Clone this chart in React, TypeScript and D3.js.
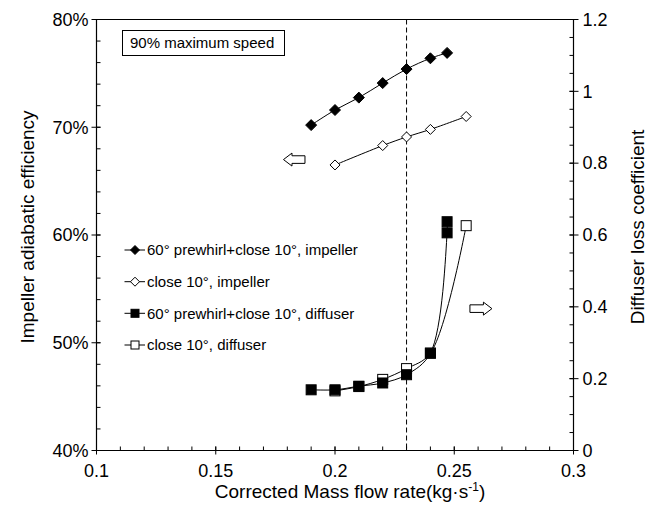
import React from 'react';
import * as d3 from 'd3';

// ---- data ----
const xImpPre = [0.19, 0.2, 0.21, 0.22, 0.23, 0.24, 0.247];
const effImpPre = [70.2, 71.6, 72.75, 74.1, 75.4, 76.4, 76.9];
const xImpClose = [0.2, 0.22, 0.23, 0.24, 0.255];
const effImpClose = [66.5, 68.3, 69.1, 69.8, 71.0];
const xDifPre = [0.19, 0.2, 0.21, 0.22, 0.23, 0.24, 0.247, 0.247];
const lossDifPre = [0.169, 0.169, 0.179, 0.188, 0.211, 0.271, 0.606, 0.637];
const xDifClose = [0.2, 0.21, 0.22, 0.23, 0.24, 0.255];
const lossDifClose = [0.166, 0.178, 0.198, 0.228, 0.271, 0.626];

const xTicks = [0.1, 0.15, 0.2, 0.25, 0.3];
const xTickLabels = ['0.1', '0.15', '0.2', '0.25', '0.3'];
const leftTicks = [40, 50, 60, 70, 80];
const leftTickLabels = ['40%', '50%', '60%', '70%', '80%'];
const rightTicks = [0, 0.2, 0.4, 0.6, 0.8, 1.0, 1.2];
const rightTickLabels = ['0', '0.2', '0.4', '0.6', '0.8', '1', '1.2'];
const legendLabels = [
  '60° prewhirl+close 10°, impeller',
  'close 10°, impeller',
  '60° prewhirl+close 10°, diffuser',
  'close 10°, diffuser',
];
const refX = 0.23;
const boxText = '90% maximum speed';
// arrow annotations (data units)
const leftArrow = { x: 0.1784, y: 67.0 };
const rightArrow = { x: 0.2658, y: 0.395 };

const W = 649, H = 506;
const L = 96.5, R = 573.5, T = 19.5, B = 450.5;
const FONT = '"Liberation Sans", Arial, sans-serif';

export default function App() {
  const x = d3.scaleLinear().domain([0.1, 0.3]).range([L, R]);
  const yL = d3.scaleLinear().domain([40, 80]).range([B, T]);
  const yR = d3.scaleLinear().domain([0, 1.2]).range([B, T]);
  const curve = d3.curveCatmullRom.alpha(0.5);

  const mkLine = (xs: number[], ys: number[], ys2: any) =>
    d3.line<number>().x((_, i) => x(xs[i])).y((_, i) => ys2(ys[i])).curve(curve)(xs) || '';

  const xMinor = d3.range(0.1, 0.3001, 0.01);
  const lMinor = d3.range(40, 80.001, 2);
  const rMinor = d3.range(0, 1.2001, 0.05);

  const diamond = (cx: number, cy: number, s: number) =>
    `M${cx},${cy - s}L${cx + s},${cy}L${cx},${cy + s}L${cx - s},${cy}Z`;

  const arrowLeft = (tx: number, ty: number) =>
    `M${tx},${ty}L${tx + 8.5},${ty - 6.5}L${tx + 8.5},${ty - 3.8}L${tx + 21.5},${ty - 3.8}L${tx + 21.5},${ty + 3.8}L${tx + 8.5},${ty + 3.8}L${tx + 8.5},${ty + 6.5}Z`;
  const arrowRight = (tx: number, ty: number) =>
    `M${tx},${ty}L${tx - 8.5},${ty - 6.5}L${tx - 8.5},${ty - 3.8}L${tx - 22},${ty - 3.8}L${tx - 22},${ty + 3.8}L${tx - 8.5},${ty + 3.8}L${tx - 8.5},${ty + 6.5}Z`;

  const legY = [250, 281.7, 313.3, 345];

  return (
    <svg width={W} height={H} style={{ position: 'absolute', left: 0, top: 0, background: '#fff' }} fontFamily={FONT}>
      <rect x={0} y={0} width={W} height={H} fill="#fff" />
      {/* frame */}
      <path d={`M${L},${T}H${R}V${B}H${L}Z`} fill="none" stroke="#000" strokeWidth={1.2} />
      {/* x ticks */}
      {xMinor.map((v, i) => (
        <line key={'xm' + i} x1={x(v)} x2={x(v)} y1={B} y2={B - 4} stroke="#000" />
      ))}
      {xTicks.map((v, i) => (
        <line key={'xM' + i} x1={x(v)} x2={x(v)} y1={B + 4} y2={B - 4} stroke="#000" />
      ))}
      {xTicks.map((v, i) => (
        <text key={'xl' + i} x={x(v)} y={B + 26} fontSize={18} textAnchor="middle">{xTickLabels[i]}</text>
      ))}
      {/* left ticks */}
      {lMinor.map((v, i) => (
        <line key={'lm' + i} x1={L} x2={L + 4} y1={yL(v)} y2={yL(v)} stroke="#000" />
      ))}
      {leftTicks.map((v, i) => (
        <line key={'lM' + i} x1={L - 5} x2={L + 4} y1={yL(v)} y2={yL(v)} stroke="#000" />
      ))}
      {leftTicks.map((v, i) => (
        <text key={'ll' + i} x={L - 8} y={yL(v)} dy="0.35em" fontSize={18} textAnchor="end">{leftTickLabels[i]}</text>
      ))}
      {/* right ticks */}
      {rMinor.map((v, i) => (
        <line key={'rm' + i} x1={R - 4} x2={R} y1={yR(v)} y2={yR(v)} stroke="#000" />
      ))}
      {rightTicks.map((v, i) => (
        <line key={'rM' + i} x1={R - 4} x2={R + 5} y1={yR(v)} y2={yR(v)} stroke="#000" />
      ))}
      {rightTicks.map((v, i) => (
        <text key={'rl' + i} x={R + 9} y={yR(v)} dy="0.35em" fontSize={18} textAnchor="start">{rightTickLabels[i]}</text>
      ))}
      {/* axis titles */}
      <text x={350} y={498} fontSize={19} textAnchor="middle">
        Corrected Mass flow rate(kg·s<tspan fontSize={12} dy={-7}>-1</tspan><tspan dy={7}>)</tspan>
      </text>
      <text transform={`translate(34,${yL(60) - 8}) rotate(-90)`} fontSize={19} textAnchor="middle">Impeller adiabatic efficiency</text>
      <text transform={`translate(644,${yR(0.6) - 8}) rotate(-90)`} fontSize={19} textAnchor="middle">Diffuser loss coefficient</text>

      {/* dashed reference line */}
      <line x1={x(refX)} x2={x(refX)} y1={T} y2={B} stroke="#000" strokeWidth={1} strokeDasharray="5,3" />

      {/* series lines */}
      <path d={mkLine(xImpPre, effImpPre, yL)} fill="none" stroke="#000" strokeWidth={1} />
      <path d={mkLine(xImpClose, effImpClose, yL)} fill="none" stroke="#000" strokeWidth={1} />
      <path d={mkLine(xDifClose, lossDifClose, yR)} fill="none" stroke="#000" strokeWidth={1} />
      <path d={mkLine(xDifPre, lossDifPre, yR)} fill="none" stroke="#000" strokeWidth={1} />

      {/* markers */}
      {xImpPre.map((v, i) => (
        <path key={'ip' + i} d={diamond(x(v), yL(effImpPre[i]), 5.5)} fill="#000" stroke="#000" />
      ))}
      {xImpClose.map((v, i) => (
        <path key={'ic' + i} d={diamond(x(v), yL(effImpClose[i]), 5)} fill="#fff" stroke="#000" />
      ))}
      {xDifClose.map((v, i) => (
        <rect key={'dc' + i} x={x(v) - 5} y={yR(lossDifClose[i]) - 5} width={10} height={10} fill="#fff" stroke="#000" />
      ))}
      {xDifPre.map((v, i) => (
        <rect key={'dp' + i} x={x(v) - 5} y={yR(lossDifPre[i]) - 5} width={10} height={10} fill="#000" stroke="#000" />
      ))}

      {/* arrows */}
      <path d={arrowLeft(x(leftArrow.x), yL(leftArrow.y))} fill="#fff" stroke="#000" strokeWidth={1} />
      <path d={arrowRight(x(rightArrow.x), yR(rightArrow.y))} fill="#fff" stroke="#000" strokeWidth={1} />

      {/* info box */}
      <rect x={122.5} y={30.5} width={162} height={25} fill="#fff" stroke="#000" strokeWidth={1} />
      <text x={130} y={48} fontSize={15}>{boxText}</text>

      {/* legend */}
      {legendLabels.map((lab, i) => {
        const cy = legY[i];
        return (
          <g key={'lg' + i}>
            <line x1={124.5} x2={145} y1={cy} y2={cy} stroke="#000" />
            {i === 0 && <path d={diamond(135, cy, 4.5)} fill="#000" stroke="#000" />}
            {i === 1 && <path d={diamond(135, cy, 4.5)} fill="#fff" stroke="#000" />}
            {i === 2 && <rect x={131} y={cy - 4} width={8} height={8} fill="#000" stroke="#000" />}
            {i === 3 && <rect x={131} y={cy - 4} width={8} height={8} fill="#fff" stroke="#000" />}
            <text x={147} y={cy} dy="0.35em" fontSize={15}>{lab}</text>
          </g>
        );
      })}
    </svg>
  );
}
